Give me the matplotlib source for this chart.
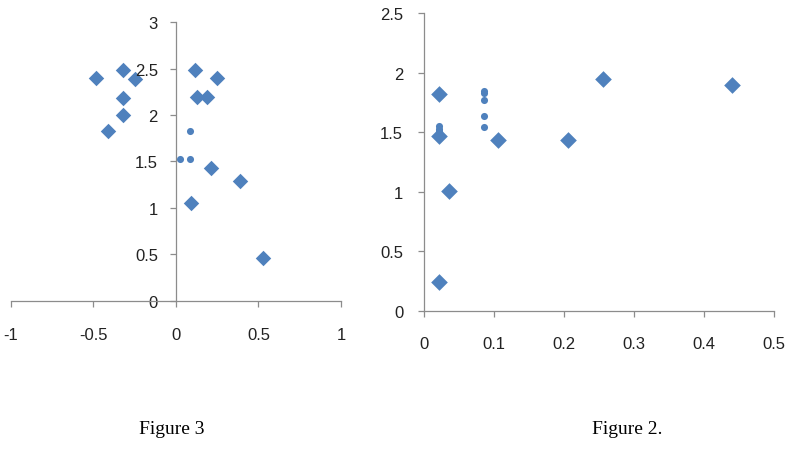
import matplotlib.pyplot as plt

# Figure 3 (left)
f3_diamond_x = [-0.485, -0.32, -0.25, -0.32, -0.32, -0.41, 0.117, 0.25, 0.13, 0.19, 0.21, 0.39, 0.089, 0.525]
f3_diamond_y = [2.40, 2.48, 2.39, 2.18, 2.00, 1.83, 2.48, 2.40, 2.19, 2.19, 1.43, 1.29, 1.05, 0.46]
f3_dot_x = [0.085, 0.024, 0.085]
f3_dot_y = [1.83, 1.53, 1.53]

# Figure 2 (right)
f2_diamond_x = [0.021, 0.021, 0.035, 0.021, 0.105, 0.206, 0.256, 0.44]
f2_diamond_y = [1.82, 1.466, 1.006, 0.238, 1.435, 1.435, 1.95, 1.90]
f2_dot_x = [0.086, 0.086, 0.086, 0.086, 0.086, 0.021, 0.021, 0.021]
f2_dot_y = [1.85, 1.83, 1.77, 1.64, 1.54, 1.55, 1.53, 1.51]

f3_xticks = [-1, -0.5, 0, 0.5, 1]
f3_yticks = [0, 0.5, 1, 1.5, 2, 2.5, 3]
f2_xticks = [0, 0.1, 0.2, 0.3, 0.4, 0.5]
f2_yticks = [0, 0.5, 1, 1.5, 2, 2.5]

blue = "#4F81BD"
grey = "#8c8c8c"

plt.rcParams["font.family"] = ["Liberation Sans", "DejaVu Sans"]

fig = plt.figure(figsize=(7.93, 4.52), dpi=100)


def style(ax, ylpad, xlpad):
    for s in ["top", "right"]:
        ax.spines[s].set_visible(False)
    for s in ["left", "bottom"]:
        ax.spines[s].set_color(grey)
        ax.spines[s].set_linewidth(0.9)
    ax.tick_params(axis="both", direction="out", length=4, width=0.9,
                   color=grey, labelsize=12, labelcolor="#222222")
    ax.tick_params(axis="y", pad=ylpad)
    ax.tick_params(axis="x", pad=xlpad)


def fmt(v):
    return "%g" % v


ax1 = fig.add_axes([0.0139, 0.332, 0.416, 0.617])
ax1.scatter(f3_diamond_x, f3_diamond_y, marker="D", s=62, color=blue, zorder=1, linewidths=0)
ax1.scatter(f3_dot_x, f3_dot_y, marker="o", s=26, color=blue, zorder=1, linewidths=0)
ax1.set_xlim(-1, 1)
ax1.set_ylim(0, 3)
ax1.spines["left"].set_position(("data", 0))
style(ax1, 9, 15)
ax1.set_xticks(f3_xticks, [fmt(v) for v in f3_xticks])
ax1.set_yticks(f3_yticks, [fmt(v) for v in f3_yticks])
for lab in ax1.get_yticklabels():
    lab.set_zorder(5)

ax2 = fig.add_axes([0.5347, 0.3104, 0.4417, 0.658])
ax2.scatter(f2_diamond_x, f2_diamond_y, marker="D", s=72, color=blue, zorder=1, linewidths=0)
ax2.scatter(f2_dot_x, f2_dot_y, marker="o", s=26, color=blue, zorder=1, linewidths=0)
ax2.set_xlim(0, 0.5)
ax2.set_ylim(0, 2.5)
style(ax2, 11, 14)
ax2.set_xticks(f2_xticks, [fmt(v) for v in f2_xticks])
ax2.set_yticks(f2_yticks, [fmt(v) for v in f2_yticks])

for a in (ax1, ax2):
    a.set_facecolor("none")

fig.text(172 / 793, 1 - 430 / 452, "Figure 3", ha="center", va="center",
         family="Liberation Serif", fontsize=14)
fig.text(627 / 793, 1 - 430 / 452, "Figure 2.", ha="center", va="center",
         family="Liberation Serif", fontsize=14)

fig.savefig("out.png", dpi=100)
